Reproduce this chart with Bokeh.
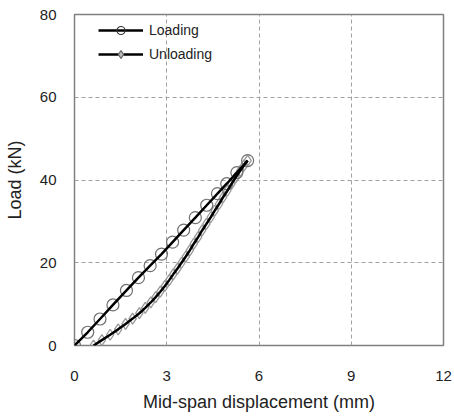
from bokeh.plotting import figure
from bokeh.models import Range1d, FixedTicker, Legend, LegendItem
from bokeh.embed import file_html
from bokeh.resources import INLINE

# Data
loading_disp = [0.0, 0.43, 0.83, 1.25, 1.69, 2.08, 2.46, 2.83, 3.19, 3.55, 3.93, 4.30, 4.65, 4.95, 5.28, 5.63]
loading_load = [0.0, 3.2, 6.4, 9.8, 13.3, 16.4, 19.3, 22.1, 25.0, 27.9, 30.9, 33.9, 36.7, 39.1, 41.8, 44.7]

unloading_disp = [0.62, 0.89, 1.16, 1.42, 1.66, 1.89, 2.11, 2.30, 2.48, 2.64, 2.79, 2.94,
                  3.08, 3.21, 3.35, 3.48, 3.62, 3.75, 3.88, 4.02, 4.15, 4.29, 4.43, 4.56,
                  4.70, 4.83, 4.97, 5.10, 5.24, 5.39, 5.52, 5.63]
unloading_load = [0.0, 1.3, 2.6, 3.9, 5.2, 6.5, 7.8, 9.1, 10.4, 11.7, 13.0, 14.4,
                  15.8, 17.2, 18.6, 20.0, 21.5, 23.0, 24.6, 26.2, 27.8, 29.4, 31.0, 32.6,
                  34.2, 35.8, 37.4, 39.0, 40.6, 42.2, 43.6, 44.7]

x_ticks = [0, 3, 6, 9, 12]
y_ticks = [0, 20, 40, 60, 80]

FONT = "Liberation Sans"

p = figure(width=454, height=417, output_backend="svg", toolbar_location=None,
           x_range=Range1d(0, 12), y_range=Range1d(0, 80),
           min_border_left=74, min_border_right=11, min_border_top=14, min_border_bottom=72)
p.background_fill_color = "white"
p.border_fill_color = "white"
p.outline_line_color = "#808080"
p.outline_line_width = 1.5

for ax in (p.xaxis[0], p.yaxis[0]):
    ax.axis_line_color = None
    ax.major_tick_line_color = None
    ax.minor_tick_line_color = None
    ax.major_tick_out = 0
    ax.major_tick_in = 0
    ax.major_label_text_font = FONT
    ax.major_label_text_font_size = "15px"
    ax.major_label_text_color = "#222222"
    ax.axis_label_text_font = FONT
    ax.axis_label_text_font_size = "18px"
    ax.axis_label_text_font_style = "normal"
    ax.axis_label_text_color = "#222222"

p.xaxis.ticker = FixedTicker(ticks=x_ticks)
p.yaxis.ticker = FixedTicker(ticks=y_ticks)
p.xaxis.axis_label = "Mid-span displacement (mm)"
p.yaxis.axis_label = "Load (kN)"
p.xaxis.major_label_standoff = 25
p.xaxis.axis_label_standoff = 8
p.yaxis.major_label_standoff = 18
p.yaxis.axis_label_standoff = 12

p.grid.grid_line_color = "#a0a0a0"
p.grid.grid_line_dash = "4 3"
p.grid.grid_line_width = 1
p.xgrid.ticker = FixedTicker(ticks=x_ticks)
p.ygrid.ticker = FixedTicker(ticks=y_ticks)

# markers
p.scatter(unloading_disp, unloading_load, marker="diamond", size=11,
          line_color="#999999", line_width=1.3, fill_color=None)
p.scatter(loading_disp, loading_load, marker="circle", size=12,
          line_color="#707070", line_width=1.2, fill_color=None)
# lines
p.line(unloading_disp, unloading_load, line_color="black", line_width=2.5)
p.line(loading_disp, loading_load, line_color="black", line_width=2.5)

# legend-only renderers (hidden on the plot, drawn in the legend)
l1 = p.line(loading_disp, loading_load, line_color="black", line_width=2.5, visible=False)
m1 = p.scatter(loading_disp, loading_load, marker="circle", size=7, line_color="#333333",
               line_width=1.2, fill_color=None, visible=False)
l2 = p.line(unloading_disp, unloading_load, line_color="black", line_width=2.5, visible=False)
m2 = p.scatter(unloading_disp, unloading_load, marker="diamond", size=8, line_color="#666666",
               line_width=1.2, fill_color="#bbbbbb", visible=False)

legend = Legend(items=[LegendItem(label="Loading", renderers=[l1, m1]),
                       LegendItem(label="Unloading", renderers=[l2, m2])],
                location=(24, 281), orientation="vertical")
legend.border_line_color = None
legend.background_fill_alpha = 0
legend.padding = 0
legend.margin = 0
legend.spacing = 4
legend.glyph_width = 45
legend.glyph_height = 20
legend.label_height = 20
legend.label_standoff = 6
legend.label_text_font = FONT
legend.label_text_font_size = "14px"
legend.label_text_color = "#222222"
p.add_layout(legend)

open("out.html", "w").write(file_html(p, INLINE))
